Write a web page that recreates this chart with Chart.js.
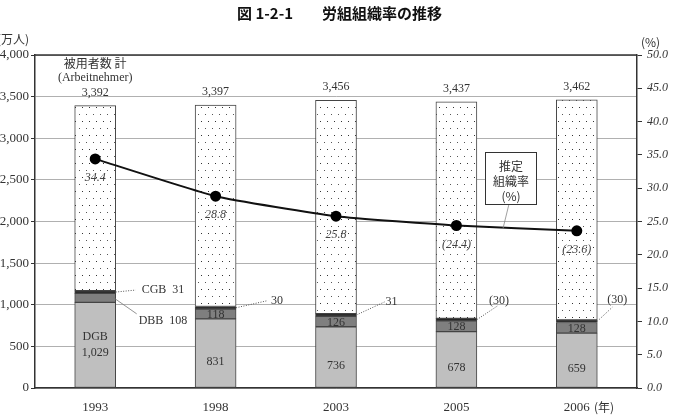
<!DOCTYPE html>
<html>
<head>
<meta charset="utf-8">
<script src="https://cdn.jsdelivr.net/npm/chart.js@4/dist/chart.umd.min.js"></script>
<style>
  body { margin: 0; background: #fff; }
  canvas { display: block; }
</style>
</head>
<body>
<canvas id="chart" width="674" height="415"></canvas>
<script>
// data
const years = ['1993', '1998', '2003', '2005', '2006'];
const totalEmployees = [3392, 3397, 3456, 3437, 3462];
const dgb = [1029, 831, 736, 678, 659];
const dbb = [108, 118, 126, 128, 128];
const cgb = [31, 30, 31, 30, 30];
const rate = [34.4, 28.8, 25.8, 24.4, 23.6];
const rateLabels = ['34.4', '28.8', '25.8', '(24.4)', '(23.6)'];
const dbbLabels = ['DBB  108', '118', '126', '128', '128'];
const cgbLabels = ['CGB  31', '30', '31', '(30)', '(30)'];
const leftTicks = [0, 500, 1000, 1500, 2000, 2500, 3000, 3500, 4000];
const rightTicks = [0, 5, 10, 15, 20, 25, 30, 35, 40, 45, 50];

// rest of employees (not organised) = total minus the three unions
const others = totalEmployees.map((t, i) => t - dgb[i] - dbb[i] - cgb[i]);

const serif = '"Liberation Serif", "DejaVu Serif", serif';
const jp = '"Noto Sans CJK JP", sans-serif';

function dotPattern() {
  const c = document.createElement('canvas');
  c.width = 7; c.height = 14;
  const g = c.getContext('2d');
  g.fillStyle = '#fff';
  g.fillRect(0, 0, 7, 14);
  g.fillStyle = '#555';
  g.fillRect(2, 2, 1, 1);
  g.fillStyle = '#333';
  g.fillRect(5, 9, 1, 1);
  return g.createPattern(c, 'repeat');
}

const annotations = {
  id: 'annotations',
  afterDraw(chart) {
    const ctx = chart.ctx;
    const x = chart.scales.x, y = chart.scales.y, y1 = chart.scales.y1;
    const a = chart.chartArea;
    const half = 20.5;

    ctx.save();
    // frame top
    ctx.strokeStyle = '#333';
    ctx.lineWidth = 1.5;
    ctx.beginPath();
    ctx.moveTo(a.left, a.top);
    ctx.lineTo(a.right, a.top);
    ctx.stroke();

    // title
    ctx.fillStyle = '#111';
    ctx.textAlign = 'left';
    ctx.textBaseline = 'middle';
    ctx.font = 'bold 15px ' + jp;
    ctx.fillText('図 1-2-1', 237, 13);
    ctx.fillText('労組組織率の推移', 322, 13);

    // unit labels
    ctx.font = '12px ' + jp;
    ctx.fillStyle = '#333';
    ctx.fillText('(万人)', -3, 39);
    ctx.fillText('(%)', 641, 42);
    ctx.fillText('(年)', 594, 407);

    // totals above bars
    ctx.textAlign = 'center';
    ctx.font = '12px ' + serif;
    years.forEach((yr, i) => {
      ctx.fillText(totalEmployees[i].toLocaleString('en-US'), x.getPixelForValue(i), y.getPixelForValue(totalEmployees[i]) - 13);
    });
    ctx.font = '12px ' + jp;
    ctx.fillText('被用者数 計', x.getPixelForValue(0), 63);
    ctx.font = '12px ' + serif;
    ctx.fillText('(Arbeitnehmer)', x.getPixelForValue(0), 78);

    // DGB values inside bars
    ctx.fillStyle = '#333';
    years.forEach((yr, i) => {
      const cx = x.getPixelForValue(i);
      const cy = y.getPixelForValue(dgb[i] / 2);
      if (i === 0) {
        ctx.fillText('DGB', cx, cy - 8);
        ctx.fillText(dgb[i].toLocaleString('en-US'), cx, cy + 8);
      } else {
        ctx.fillText(dgb[i].toLocaleString('en-US'), cx, cy + 8);
      }
    });

    // DBB values
    years.forEach((yr, i) => {
      const cx = x.getPixelForValue(i);
      const cy = y.getPixelForValue(dgb[i] + dbb[i] / 2);
      if (i === 0) {
        ctx.strokeStyle = '#777';
        ctx.lineWidth = 0.8;
        ctx.setLineDash([]);
        ctx.beginPath();
        ctx.moveTo(cx + half - 2, cy);
        ctx.lineTo(cx + half + 21, cy + 16);
        ctx.stroke();
        ctx.textAlign = 'left';
        ctx.fillText(dbbLabels[i], cx + half + 23, cy + 23);
        ctx.textAlign = 'center';
      } else {
        ctx.fillText(dbbLabels[i], cx, cy + 1);
      }
    });

    // CGB values with dotted leaders
    const lead = [[20, -2, 26, -2, 'left'], [31, -7, 35, -7, 'left'], [28, -13, 29, -13, 'left'], [21, -14, 22, -19, 'center'], [15, -14, 20, -21, 'center']];
    ctx.strokeStyle = '#555';
    ctx.lineWidth = 1;
    ctx.setLineDash([1, 1.5]);
    years.forEach((yr, i) => {
      const cx = x.getPixelForValue(i) + half;
      const cy = y.getPixelForValue(dgb[i] + dbb[i] + cgb[i] / 2);
      const l = lead[i];
      ctx.beginPath();
      ctx.moveTo(cx, cy);
      ctx.lineTo(cx + l[0], cy + l[1]);
      ctx.stroke();
      ctx.textAlign = l[4];
      ctx.fillText(cgbLabels[i], cx + l[2], cy + l[3]);
    });
    ctx.setLineDash([]);

    // rate labels under the points
    ctx.textAlign = 'center';
    ctx.font = 'italic 12px ' + serif;
    ctx.fillStyle = '#444';
    years.forEach((yr, i) => {
      ctx.fillText(rateLabels[i], x.getPixelForValue(i), y1.getPixelForValue(rate[i]) + 19);
    });

    // legend box for the line
    ctx.strokeStyle = '#888';
    ctx.lineWidth = 0.8;
    ctx.beginPath();
    ctx.moveTo(509, 204);
    ctx.lineTo(503, y1.getPixelForValue(rate[3]) + 3);
    ctx.stroke();
    ctx.fillStyle = '#fff';
    ctx.fillRect(485, 152, 51, 52);
    ctx.strokeStyle = '#333';
    ctx.lineWidth = 1;
    ctx.strokeRect(485.5, 152.5, 51, 52);
    ctx.fillStyle = '#333';
    ctx.font = '12px ' + jp;
    ctx.fillText('推定', 511, 166);
    ctx.fillText('組織率', 511, 181);
    ctx.fillText('(%)', 511, 196);

    ctx.restore();
  }
};

const barStyle = { borderColor: '#444', borderWidth: 1, borderSkipped: false, barThickness: 41, yAxisID: 'y', stack: 's', order: 1 };

new Chart(document.getElementById('chart'), {
  data: {
    labels: years,
    datasets: [
      Object.assign({ type: 'bar', label: 'DGB', data: dgb, backgroundColor: '#bfbfbf' }, barStyle),
      Object.assign({ type: 'bar', label: 'DBB', data: dbb, backgroundColor: '#7f7f7f' }, barStyle),
      Object.assign({ type: 'bar', label: 'CGB', data: cgb, backgroundColor: '#262626' }, barStyle),
      Object.assign({ type: 'bar', label: 'other', data: others, backgroundColor: dotPattern() }, barStyle),
      {
        type: 'line', label: '推定組織率', data: rate, yAxisID: 'y1', order: 0,
        borderColor: '#111', borderWidth: 2, tension: 0.15,
        pointRadius: 4.5, pointBackgroundColor: '#000', pointBorderColor: '#000'
      }
    ]
  },
  options: {
    responsive: false,
    animation: false,
    layout: { padding: { top: 55, left: 0, right: 0, bottom: 0 } },
    plugins: { legend: { display: false }, tooltip: { enabled: false } },
    scales: {
      x: {
        offset: true,
        grid: { display: false },
        border: { color: '#333', width: 1.5 },
        ticks: { color: '#333', font: { family: serif, size: 13 }, padding: 4 },
        afterFit(s) { s.height = 27; }
      },
      y: {
        position: 'left',
        min: 0, max: 4000,
        afterBuildTicks(s) { s.ticks = leftTicks.map(v => ({ value: v })); },
        ticks: { color: '#333', font: { family: serif, size: 13 }, padding: 2, callback: v => v.toLocaleString('en-US') },
        grid: { color: '#b0b0b0', lineWidth: 1, tickColor: '#333', tickLength: 4 },
        border: { color: '#333', width: 1.5 },
        afterFit(s) { s.width = 35; }
      },
      y1: {
        position: 'right',
        min: 0, max: 50,
        afterBuildTicks(s) { s.ticks = rightTicks.map(v => ({ value: v })); },
        ticks: { color: '#333', font: { family: serif, size: 12, style: 'italic' }, padding: 5, callback: v => v.toFixed(1) },
        grid: { drawOnChartArea: false, tickColor: '#333', tickLength: 5 },
        border: { color: '#333', width: 1.5 },
        afterFit(s) { s.width = 37; }
      }
    }
  },
  plugins: [annotations]
});
</script>
</body>
</html>
